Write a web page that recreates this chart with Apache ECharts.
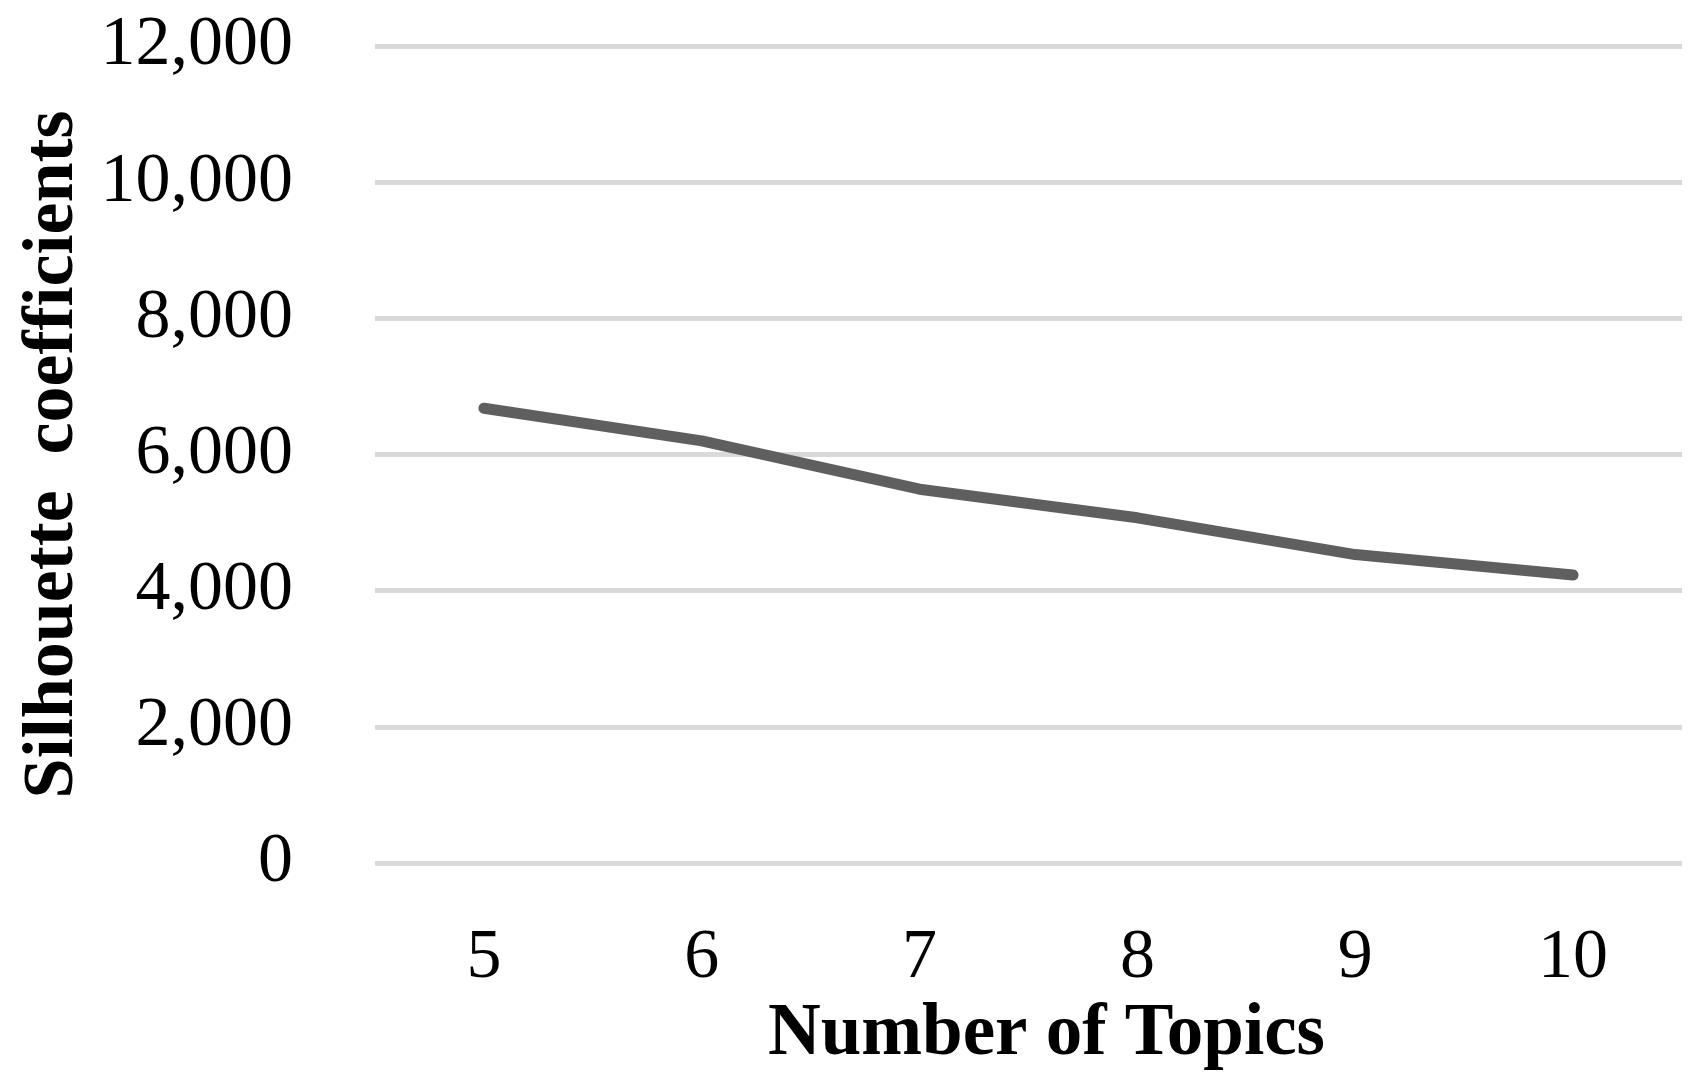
<!DOCTYPE html>
<html>
<head>
<meta charset="utf-8">
<script src="https://cdn.jsdelivr.net/npm/echarts@6/dist/echarts.min.js"></script>
<style>
  html, body { margin: 0; padding: 0; background: #fff; }
  #chart { width: 1704px; height: 1085px; }
</style>
</head>
<body>
<div id="chart"></div>
<script>
// Dati
const topics = ["5", "6", "7", "8", "9", "10"];
const silhouette = [6680, 6200, 5490, 5070, 4530, 4230];
const yTicks = { min: 0, max: 12000, interval: 2000 };

const serif = '"Liberation Serif", "Times New Roman", serif';

const chart = echarts.init(document.getElementById("chart"));
chart.setOption({
  animation: false,
  grid: { left: 375, right: 22, top: 46, bottom: 222, outerBoundsMode: "none" },
  xAxis: {
    type: "category",
    data: topics,
    boundaryGap: true,
    axisLine: { show: false },
    axisTick: { show: false },
    axisLabel: { color: "#000", fontFamily: serif, fontSize: 70, margin: 61 },
    name: "Number of Topics",
    nameLocation: "middle",
    nameGap: 128,
    nameTextStyle: {
      color: "#000", fontFamily: serif, fontSize: 73, fontWeight: "bold",
      padding: [0, 0, 0, 36]
    }
  },
  yAxis: {
    type: "value",
    ...yTicks,
    axisLine: { show: false },
    axisTick: { show: false },
    splitLine: { lineStyle: { color: "#d9d9d9", width: 5 } },
    axisLabel: {
      color: "#000", fontFamily: serif, fontSize: 70, margin: 82,
      formatter: v => v.toLocaleString("en-US")
    },
    name: "Silhouette  coefficients",
    nameLocation: "middle",
    nameGap: 286,
    nameTextStyle: { color: "#000", fontFamily: serif, fontSize: 72, fontWeight: "bold" }
  },
  series: [{
    type: "line",
    data: silhouette,
    showSymbol: false,
    lineStyle: { color: "#5f5f5f", width: 11, cap: "round", join: "round" },
    itemStyle: { color: "#5f5f5f" }
  }]
});
</script>
</body>
</html>
